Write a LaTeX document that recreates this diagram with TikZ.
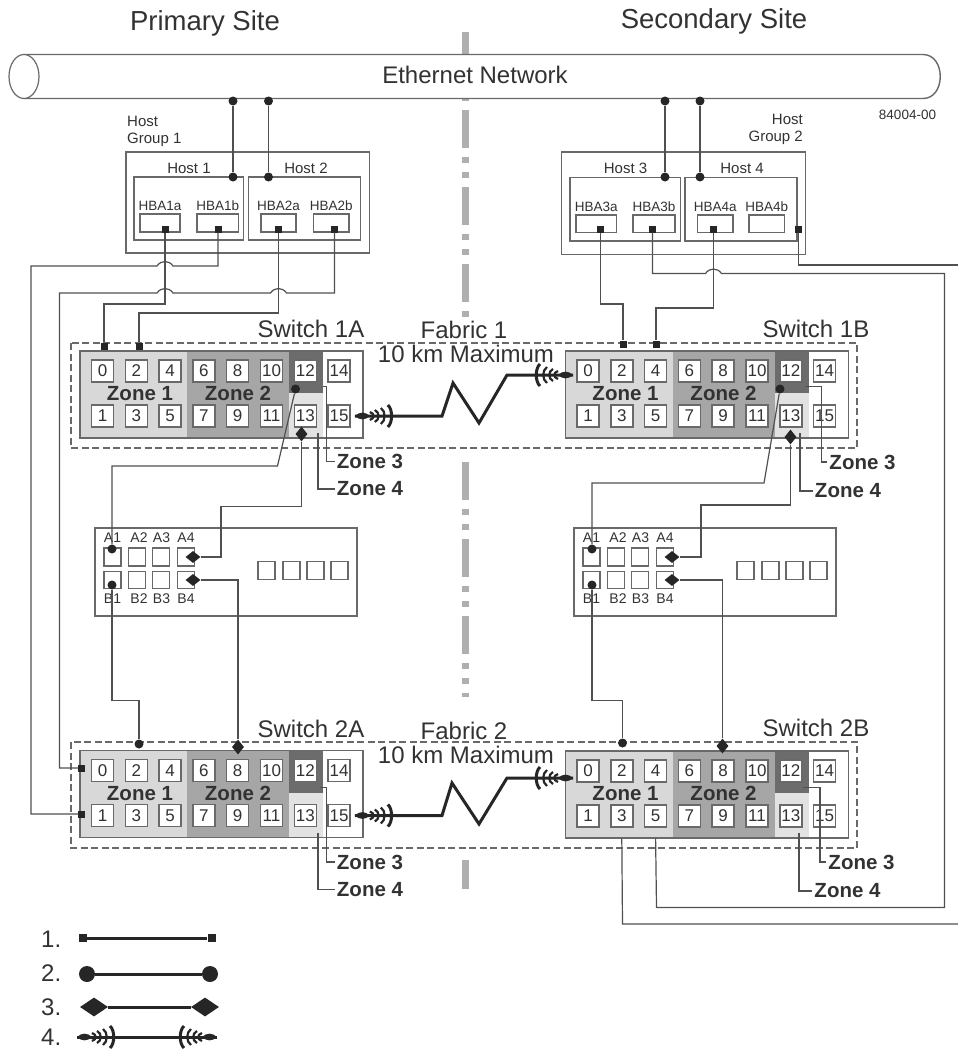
\documentclass[tikz,border=0pt]{standalone}
\usepackage{fontspec}
\setmainfont{Liberation Sans}
\usepackage{tikz}
\usetikzlibrary{positioning,arrows.meta,shapes.geometric,fit,calc}
\usepackage{xcolor}
\definecolor{ink}{RGB}{50,50,50}
\definecolor{edge}{RGB}{105,105,105}
\definecolor{wirecol}{RGB}{80,80,80}
\definecolor{centre}{RGB}{175,175,175}
\definecolor{zoneA}{RGB}{216,216,216}
\definecolor{zoneB}{RGB}{166,166,166}
\definecolor{zoneC}{RGB}{108,108,108}
\definecolor{zoneD}{RGB}{226,226,226}
\tikzset{
    fiberend/.pic={
        \fill (0,0) .. controls (5,-4.5) and (10,-4.5) .. (15,0) .. controls (10,4.5) and (5,4.5) .. (0,0);
        \foreach \cx/\hh/\lw in {20/4/2.2,25/6/2.2,31/8/2.2,38/11/3}
            \draw[line width=\lw pt] ({\cx-5},{-\hh}) .. controls (\cx,{-0.6*\hh}) and (\cx,{0.6*\hh}) .. ({\cx-5},\hh);
    }
}
\newcommand{\hop}[2]{-- ({#1+8},#2) .. controls ({#1+4},{#2-6}) and ({#1-4},{#2-6}) .. ({#1-8},#2)}
\newcommand{\switchbox}[3]{
    \begin{scope}[shift={(#2,#3)}]
        \fill[zoneA] (0,0) rectangle (107,87);
        \fill[zoneB] (107,0) rectangle (209,87);
        \fill[zoneC] (209,0) rectangle (243,42);
        \fill[zoneD] (209,42) rectangle (243,87);
        \node[swbox] (#1) at (141.5,43.5) {};
        \foreach \n in {0,2,...,14}
            \node[port] (#1-\n) at ({22.5+16.9*\n},20) {\n};
        \foreach \n in {1,3,...,15}
            \node[port] (#1-\n) at ({22.5+16.9*(\n-1)},65) {\n};
        \node[zonetext] (#1-z1) at (60,43) {Zone 1};
        \node[zonetext] (#1-z2) at (158,42.5) {Zone 2};
    \end{scope}
}
\newcommand{\storagebox}[2]{
    \begin{scope}[shift={(#2,528)}]
        \node[stbox] (#1) at (131,44) {};
        \foreach \n/\px/\lx in {1/17.5/17.5,2/42/44,3/66/66.5,4/91/91} {
            \node[stport] (#1-a\n) at (\px,29) {};
            \node[stport, minimum height=17pt] (#1-b\n) at (\px,52) {};
            \node[smalltext] (#1-la\n) at (\lx,10) {A\n};
            \node[smalltext] (#1-lb\n) at (\lx,71) {B\n};
        }
        \foreach \n/\px in {1/171.5,2/196.5,3/220.5,4/244.5}
            \node[stport] (#1-x\n) at (\px,42.5) {};
    \end{scope}
}
\begin{document}
\begin{tikzpicture}[
    x=1pt, y=-1pt,
    wire/.style={draw=wirecol, line width=1.2pt},
    hostbox/.style={draw=edge, line width=1.2pt, inner sep=0pt},
    swbox/.style={draw=edge, line width=1.4pt, minimum width=283pt, minimum height=87pt, inner sep=0pt},
    stbox/.style={draw=edge, line width=1.4pt, minimum width=262pt, minimum height=88pt, inner sep=0pt},
    port/.style={draw=edge, fill=white, line width=1.5pt, minimum size=22pt, inner sep=0pt, text=ink, font=\fontsize{17}{17}\selectfont},
    stport/.style={draw=edge, line width=1.2pt, minimum width=17pt, minimum height=18pt, inner sep=0pt},
    frame/.style={draw=edge, line width=1.2pt, dash pattern=on 7pt off 3.5pt},
    centreline/.style={draw=centre, line width=7pt},
    sqend/.style={rectangle, fill=black!85, minimum size=7pt, inner sep=0pt},
    dotend/.style={circle, fill=black!85, minimum size=9pt, inner sep=0pt},
    diaend/.style={diamond, fill=black!85, minimum width=15pt, minimum height=12pt, inner sep=0pt},
    fiber/.style={draw=black!85, line width=3pt},
    legline/.style={draw=black!85, line width=3pt},
    zonetext/.style={text=ink, inner sep=2pt, font=\fontsize{20.5}{20.5}\selectfont\bfseries},
    bigtext/.style={text=ink, inner sep=0pt, font=\fontsize{24}{24}\selectfont},
    hosttext/.style={text=ink, inner sep=0pt, font=\fontsize{15}{17}\selectfont},
    hbatext/.style={text=ink, inner sep=0pt, font=\fontsize{13.5}{14}\selectfont},
    smalltext/.style={text=ink, inner sep=0pt, font=\fontsize{14}{14}\selectfont}
]
    \useasboundingbox (0,0) rectangle (958,1049);

    \draw[centreline] (465,32) -- (465,101);
    \draw[centreline, dash pattern=on 38pt off 9pt on 6pt off 9pt on 6pt off 9pt] (465,110) -- (465,318);
    \draw[centreline, dash pattern=on 38pt off 9pt on 6pt off 9pt on 6pt off 9pt] (465,462) -- (465,697);
    \draw[centreline] (465,860) -- (465,889);

    \draw[draw=edge, fill=white, line width=1.4pt] (24,54.5) -- (923,54.5) .. controls (946,54.5) and (946,98.5) .. (923,98.5) -- (24,98.5) -- cycle;
    \draw[draw=edge, fill=white, line width=1.2pt] (24,76.5) ellipse [x radius=15pt, y radius=22pt];
    \node[bigtext] (ethernet) at (475,75) {Ethernet Network};
    \node[text=ink, inner sep=0pt, font=\fontsize{27.5}{27.5}\selectfont] (primary) at (205,23) {Primary Site};
    \node[text=ink, inner sep=0pt, font=\fontsize{27.5}{27.5}\selectfont] (secondary) at (714,21) {Secondary Site};
    \node[text=ink, inner sep=0pt, font=\fontsize{13.5}{14}\selectfont] (partno) at (907.5,115) {84004-00};

    \node[hostbox, fit={(126,152) (369.5,253)}] (group1) {};
    \node[hostbox, fit={(134,177) (243.5,240)}] (host1) {};
    \node[hostbox, fit={(248.5,177) (360.5,240)}] (host2) {};
    \node[hostbox, fit={(140,214) (180,232)}] (hba1a) {};
    \node[hostbox, fit={(197,214) (238.5,232)}] (hba1b) {};
    \node[hostbox, fit={(261,214) (296,232)}] (hba2a) {};
    \node[hostbox, fit={(313.5,214) (349,232)}] (hba2b) {};
    \node[hostbox, fit={(561.5,152) (805.5,254.5)}] (group2) {};
    \node[hostbox, fit={(570,177.5) (680.5,241)}] (host3) {};
    \node[hostbox, fit={(685,177.5) (797,241)}] (host4) {};
    \node[hostbox, fit={(576,215) (616.5,232.5)}] (hba3a) {};
    \node[hostbox, fit={(633,215) (675,232.5)}] (hba3b) {};
    \node[hostbox, fit={(697.5,215) (733,232.5)}] (hba4a) {};
    \node[hostbox, fit={(749,215) (784.5,232.5)}] (hba4b) {};

    \node[hosttext, anchor=west, align=left] (group1txt) at (127,131) {Host\\Group 1};
    \node[hosttext, anchor=east, align=right] (group2txt) at (803,129) {Host\\Group 2};
    \node[hosttext] (host1txt) at (189,168.5) {Host 1};
    \node[hosttext] (host2txt) at (306,168.5) {Host 2};
    \node[hosttext] (host3txt) at (625.5,168.5) {Host 3};
    \node[hosttext] (host4txt) at (742,168.5) {Host 4};
    \node[hbatext, above=2.5pt of hba1a] {HBA1a};
    \node[hbatext, above=2.5pt of hba1b] {HBA1b};
    \node[hbatext, above=2.5pt of hba2a] {HBA2a};
    \node[hbatext, above=2.5pt of hba2b] {HBA2b};
    \node[hbatext, above=2.5pt of hba3a] {HBA3a};
    \node[hbatext, above=2.5pt of hba3b] {HBA3b};
    \node[hbatext, above=2.5pt of hba4a] {HBA4a};
    \node[hbatext, above=2.5pt of hba4b] {HBA4b};

    \draw[frame] (71,343) rectangle (857,448);
    \draw[frame] (71,742) rectangle (857,848);
    \switchbox{swa}{80}{351}
    \switchbox{swb}{565.5}{351}
    \switchbox{swc}{80}{750.5}
    \switchbox{swd}{565.5}{751}

    \node[bigtext] (sw1atxt) at (311,329) {Switch 1A};
    \node[bigtext] (sw1btxt) at (816,329) {Switch 1B};
    \node[bigtext] (sw2atxt) at (311,729) {Switch 2A};
    \node[bigtext] (sw2btxt) at (816,728) {Switch 2B};
    \node[bigtext] (fab1txt) at (464,330) {Fabric 1};
    \node[bigtext] (km1txt) at (466,354) {10 km Maximum};
    \node[bigtext] (fab2txt) at (464,731) {Fabric 2};
    \node[bigtext] (km2txt) at (466,755) {10 km Maximum};

    \storagebox{sta}{95}
    \storagebox{stb}{574}

    \node[dotend] (net1) at (233,101) {};
    \node[dotend] (net2) at (268.5,101) {};
    \node[dotend] (net3) at (665,101) {};
    \node[dotend] (net4) at (700,101) {};
    \node[dotend] (hostdot1) at (233,177) {};
    \node[dotend] (hostdot2) at (268.5,177) {};
    \node[dotend] (hostdot3) at (665,177) {};
    \node[dotend] (hostdot4) at (700,177) {};
    \draw[wire] (net1) -- (hostdot1);
    \draw[wire] (net2) -- (hostdot2);
    \draw[wire] (net3) -- (hostdot3);
    \draw[wire] (net4) -- (hostdot4);

    \node[sqend] (t1a) at (165,229) {};
    \node[sqend] (t1b) at (218,229) {};
    \node[sqend] (t2a) at (278.5,229) {};
    \node[sqend] (t2b) at (334.5,229) {};
    \node[sqend] (t3a) at (600.5,229) {};
    \node[sqend] (t3b) at (652.5,229) {};
    \node[sqend] (t4a) at (713.5,229) {};
    \node[sqend] (t4b) at (798.5,229) {};
    \node[sqend] (swa-t0) at (104,346) {};
    \node[sqend] (swa-t2) at (139,346) {};
    \node[sqend] (swb-t2) at (623,344) {};
    \node[sqend] (swb-t4) at (656,344) {};
    \node[sqend] (swc-t0) at (81.5,768) {};
    \node[sqend] (swc-t1) at (81.5,814) {};
    \node[dotend] (swa-t12) at (295.5,389) {};
    \node[diaend, minimum width=12pt, minimum height=15pt] (swa-t13) at (301.5,434) {};
    \node[dotend] (swb-t12) at (780,389) {};
    \node[diaend, minimum width=12pt, minimum height=15pt] (swb-t13) at (790.5,437) {};
    \node[dotend] (swc-t2) at (139,744) {};
    \node[diaend, minimum width=12pt, minimum height=15pt] (swc-t8) at (238,747) {};
    \node[dotend] (swd-t2) at (622.5,743) {};
    \node[diaend, minimum width=12pt, minimum height=15pt] (swd-t8) at (722.5,746) {};
    \node[dotend] (sta-a1t) at (112,549) {};
    \node[diaend] (sta-a4t) at (193,557) {};
    \node[dotend] (sta-b1t) at (112,585) {};
    \node[diaend] (sta-b4t) at (193,580) {};
    \node[dotend] (stb-a1t) at (592,549) {};
    \node[diaend] (stb-a4t) at (672,557) {};
    \node[dotend] (stb-b1t) at (592,585) {};
    \node[diaend] (stb-b4t) at (672,580) {};
    \coordinate (edge2) at (958,265);
    \coordinate (edge3) at (958,924);

    \draw[wire] (t1a) -- (165,304) -- (104,304) -- (swa-t0);
    \draw[wire] (t2a) -- (278.5,313) -- (139,313) -- (swa-t2);
    \draw[wire] (t1b) -- (218,266) \hop{165}{266} -- (31,266) -- (31,814) -- (swc-t1);
    \draw[wire] (t2b) -- (334.5,293) \hop{278.5}{293} \hop{165}{293} -- (59.5,293) -- (59.5,768) -- (swc-t0);
    \draw[wire] (t3a) -- (600.5,304) -- (623,304) -- (swb-t2);
    \draw[wire] (t4a) -- (713.5,308) -- (656,308) -- (swb-t4);
    \draw[wire] (t3b) -- (652.5,273.5) -- (705.5,273.5) .. controls (709.5,267.5) and (717.5,267.5) .. (721.5,273.5) -- (944.5,273.5) -- (944.5,907.5) -- (656.5,907.5) -- (swd-5 |- swd.south);
    \draw[wire] (t4b) -- (798.5,265) -- (edge2);
    \draw[wire] (swd-3 |- swd.south) -- (622.5,924) -- (edge3);

    \draw[wire] (swa-t12) -- (277.5,466) -- (112,466) -- (sta-a1t);
    \draw[wire] (swa-t13) -- (301.5,506.5) -- (221,506.5) -- (221,557) -- (sta-a4t);
    \draw[wire] (sta-b1t) -- (112,700.5) -- (139,700.5) -- (swc-t2);
    \draw[wire] (sta-b4t) -- (238,580) -- (swc-t8);
    \draw[wire] (swb-t12) -- (764,483) -- (592,483) -- (stb-a1t);
    \draw[wire] (swb-t13) -- (790.5,505) -- (701,505) -- (701,557) -- (stb-a4t);
    \draw[wire] (stb-b1t) -- (592,700.5) -- (622.5,700.5) -- (swd-t2);
    \draw[wire] (stb-b4t) -- (722.5,580) -- (swd-t8);

    \coordinate (fiba) at (573,375);
    \coordinate (fibb) at (573,778);
    \coordinate (fibc) at ([xshift=4pt]swa-15.east);
    \coordinate (fibd) at ([xshift=4pt]swc-15.east);
    \draw[fiber] (fibc) -- (442,416) -- (453,383) -- (479,423) -- (507,375) -- (fiba);
    \draw[fiber] (fibd) -- (442,815.5) -- (452,783) -- (479,824) -- (507,778) -- (fibb);
    \pic[black!85] at (fibc) {fiberend};
    \pic[black!85] at (fibd) {fiberend};
    \pic[black!85, xscale=-1] at (fiba) {fiberend};
    \pic[black!85, xscale=-1] at (fibb) {fiberend};

    \coordinate (za3) at (322.5,386.5);
    \coordinate (za4) at (318,433);
    \coordinate (zb3) at (805,386.5);
    \coordinate (zb4) at (800,433);
    \coordinate (zc3) at (320,787.5);
    \coordinate (zc4) at (318,833);
    \coordinate (zd3) at (803,787.5);
    \coordinate (zd4) at (799,833);
    \node[zonetext] (za3txt) at (370,461.5) {Zone 3};
    \node[zonetext] (za4txt) at (370,489) {Zone 4};
    \node[zonetext] (zb3txt) at (862.5,462) {Zone 3};
    \node[zonetext] (zb4txt) at (848,491) {Zone 4};
    \node[zonetext] (zc3txt) at (370,862) {Zone 3};
    \node[zonetext] (zc4txt) at (370,889.5) {Zone 4};
    \node[zonetext] (zd3txt) at (861.5,862) {Zone 3};
    \node[zonetext] (zd4txt) at (847.5,891) {Zone 4};
    \draw[wire] (za3) -- (326.5,386.5) |- (za3txt.west);
    \draw[wire] (za4) |- (za4txt.west);
    \draw[wire] (zb3) -- (821.5,386.5) |- (zb3txt.west);
    \draw[wire] (zb4) |- (zb4txt.west);
    \draw[wire] (zc3) -- (326.5,787.5) |- (zc3txt.west);
    \draw[wire] (zc4) |- (zc4txt.west);
    \draw[wire] (zd3) -- (820,787.5) |- (zd3txt.west);
    \draw[wire] (zd4) |- (zd4txt.west);

    \node[bigtext, anchor=west] (leg1) at (41,939) {1.};
    \node[bigtext, anchor=west] (leg2) at (41,973) {2.};
    \node[bigtext, anchor=west] (leg3) at (41,1007) {3.};
    \node[bigtext, anchor=west] (leg4) at (41,1037) {4.};
    \node[sqend, minimum size=8pt] (leg1a) at (83,938) {};
    \node[sqend, minimum size=8pt] (leg1b) at (211.5,938) {};
    \node[dotend, minimum size=16pt] (leg2a) at (87,974) {};
    \node[dotend, minimum size=16pt] (leg2b) at (210,974) {};
    \node[diaend, minimum width=28pt, minimum height=19pt] (leg3a) at (94,1007) {};
    \node[diaend, minimum width=28pt, minimum height=19pt] (leg3b) at (205,1007) {};
    \coordinate (leg4a) at (77,1037);
    \coordinate (leg4b) at (217,1037);
    \draw[legline] (leg1a) -- (leg1b);
    \draw[legline] (leg2a) -- (leg2b);
    \draw[legline] (leg3a) -- (leg3b);
    \draw[legline] (leg4a) -- (leg4b);
    \pic[black!85] at (leg4a) {fiberend};
    \pic[black!85, xscale=-1] at (leg4b) {fiberend};
\end{tikzpicture}
\end{document}
